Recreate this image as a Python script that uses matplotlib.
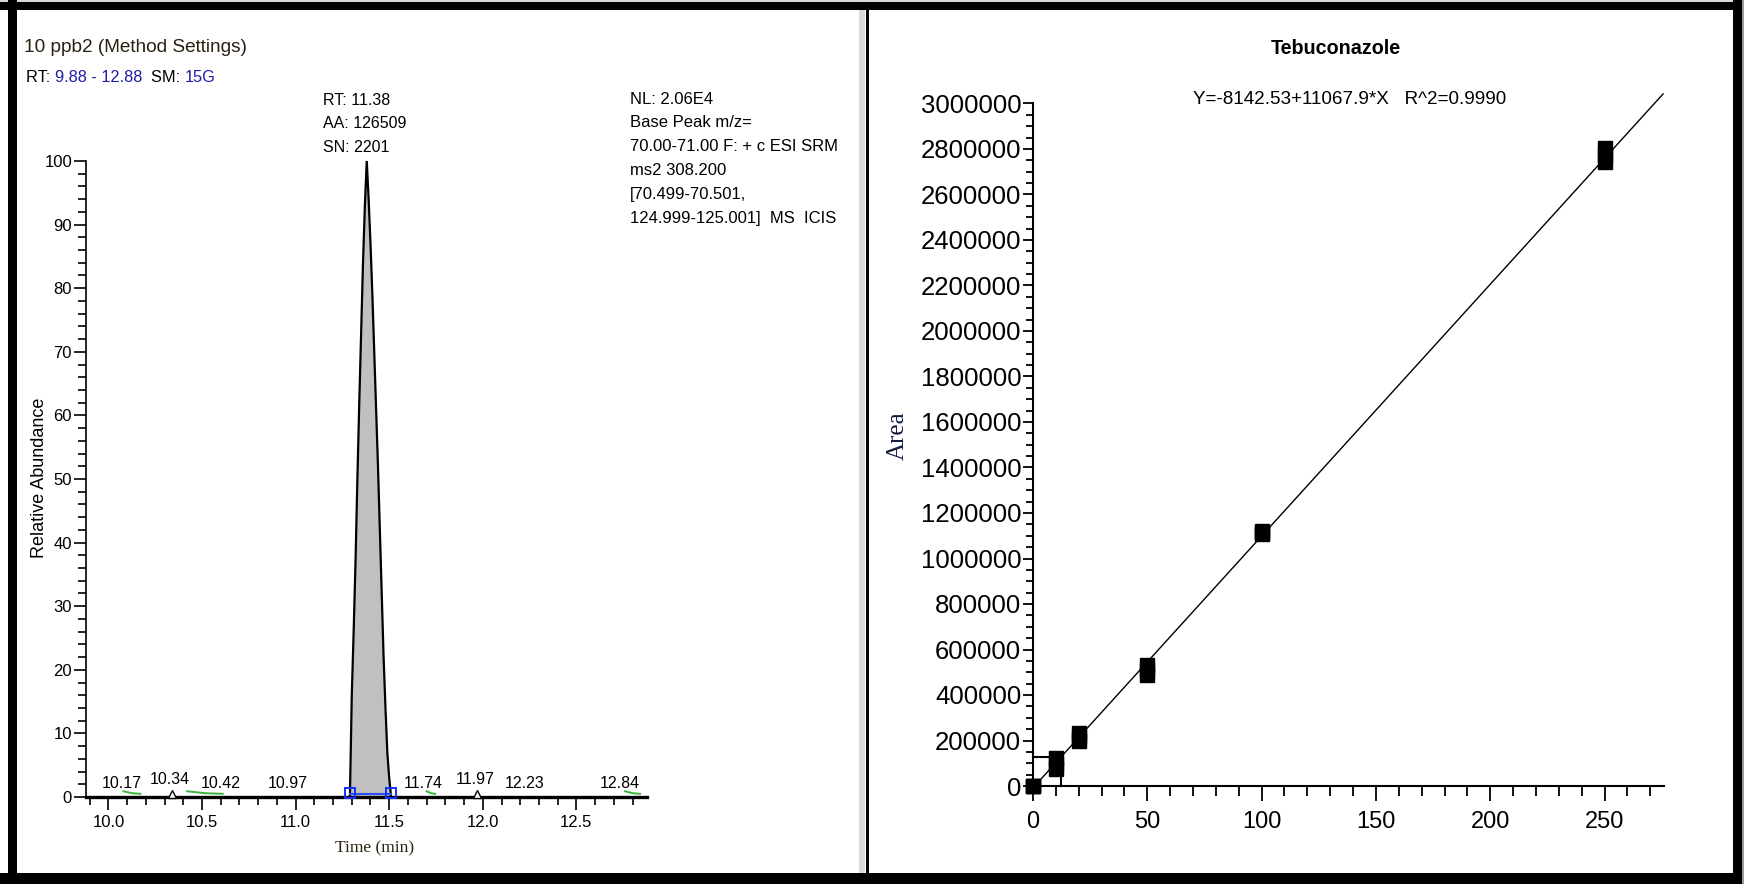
import matplotlib
matplotlib.use('Agg')
import matplotlib.pyplot as plt
from matplotlib.patches import Rectangle
from matplotlib.ticker import MultipleLocator, FuncFormatter

plt.rcParams['font.family'] = ['Liberation Sans', 'DejaVu Sans']

# ---------------- data ----------------
# chromatogram peak (time, relative abundance)
peak_time = [11.290, 11.295, 11.300, 11.31, 11.32, 11.33, 11.34, 11.35, 11.36, 11.37, 11.38,
             11.39, 11.40, 11.41, 11.42, 11.43, 11.44, 11.45, 11.46, 11.47, 11.48, 11.49, 11.50, 11.51]
peak_abund = [0, 8, 16, 26, 37, 50, 62, 73, 84, 93, 100,
              94, 87, 79, 70, 61, 52, 42, 32, 22, 14, 7, 3, 0]
peak_start = 11.29
peak_end = 11.51
# labelled minor peaks
minor_rt = [10.17, 10.34, 10.42, 10.97, 11.74, 11.97, 12.23, 12.84]
triangle_rt = [10.34, 11.97]
green_start = [10.08, 10.42, 11.70, 12.76]
green_end = [10.17, 10.61, 11.745, 12.84]
rt_range = (9.88, 12.88)
sample_area = 126509

# calibration data
conc_levels = [0, 10, 20, 50, 100, 250]
area_rep1 = [0, 76000, 199000, 487000, 1107000, 2743000]
area_rep2 = [500, 98000, 215000, 510000, 1113000, 2773000]
area_rep3 = [1000, 121000, 232000, 532000, 1119000, 2803000]
intercept = -8142.53
slope = 11067.9
r2 = 0.9990

# ---------------- layout helpers ----------------
W, H = 1744, 884
fig = plt.figure(figsize=(W / 100, H / 100), dpi=100)
fig.patch.set_facecolor('white')


def fx(x):
    return x / W


def fy(y):
    return 1 - y / H


def band(x0, y0, x1, y1, color):
    fig.add_artist(Rectangle((fx(x0), fy(y1)), (x1 - x0) / W, (y1 - y0) / H,
                             transform=fig.transFigure, color=color, lw=0, zorder=20))


BLUE = '#1e1ea6'
DARK = '#2a2010'

# ---------------- left panel : chromatogram ----------------
ax1 = fig.add_axes([fx(86), fy(797), (647.5 - 86) / W, (797 - 161) / H])
ax1.set_xlim(*rt_range)
ax1.set_ylim(0, 100)
for s in ('top', 'right'):
    ax1.spines[s].set_visible(False)
ax1.spines['left'].set_linewidth(1.2)
ax1.spines['bottom'].set_linewidth(2.4)
ax1.xaxis.set_major_locator(MultipleLocator(0.5))
ax1.xaxis.set_minor_locator(MultipleLocator(0.1))
ax1.yaxis.set_major_locator(MultipleLocator(10))
ax1.yaxis.set_minor_locator(MultipleLocator(2))
ax1.xaxis.set_major_formatter(FuncFormatter(lambda v, p: f'{v:.1f}'))
ax1.tick_params(axis='x', which='major', length=9, width=1.2, pad=4, labelsize=12)
ax1.tick_params(axis='x', which='minor', length=5.5, width=1.2)
ax1.tick_params(axis='y', which='major', length=8.5, width=1.2, pad=1.5, labelsize=12)
ax1.tick_params(axis='y', which='minor', length=5.5, width=1.2)

ax1.fill(peak_time, peak_abund, facecolor='#c0c0c0', edgecolor='black', lw=1.6,
         clip_on=False, zorder=3)
# baseline integration marks
ax1.plot([peak_start, peak_end], [0.5, 0.5], color='#2f4dff', lw=1.5, zorder=4, clip_on=False)
ax1.plot([peak_start, peak_end], [0.6, 0.6], ls='none', marker='s', ms=7, mfc='none',
         mec='#1030ff', mew=1.4, zorder=5, clip_on=False)
# green smoothed segments
for g0, g1 in zip(green_start, green_end):
    ax1.plot([g0, (g0 + g1) / 2, g1], [0.9, 0.6, 0.5], color='#3cb43c', lw=1.4, zorder=4,
             clip_on=False)
ax1.plot(triangle_rt, [0.5] * len(triangle_rt), ls='none', marker='^', ms=6, mfc='white',
         mec='black', mew=1.0, zorder=5, clip_on=False)
label_dx_px = [-19, -2, 34, -2, -11, -2, -1, -20]
label_dy_px = [14, 17, 14, 14, 14, 17, 14, 14]
for rt, dx, dy in zip(minor_rt, label_dx_px, label_dy_px):
    ax1.annotate(f'{rt:.2f}', xy=(rt, 0), xytext=(dx * 0.72, dy * 0.72),
                 textcoords='offset points', ha='center', va='center', fontsize=11.5,
                 annotation_clip=False)

fig.text(fx(375), fy(848.5), 'Time (min)', family=['Liberation Serif', 'DejaVu Serif'],
         fontsize=12.5, ha='center', va='center', color=DARK)
fig.text(fx(39), fy(478), 'Relative Abundance', rotation=90, fontsize=13,
         ha='center', va='center')

# header texts
fig.text(fx(24), fy(48), '10 ppb2 (Method Settings)', fontsize=13.7, ha='left', va='center',
         color=DARK)
parts = [('RT: ', 'black'), (f'{rt_range[0]:.2f} - {rt_range[1]:.2f}', BLUE),
         ('  SM: ', 'black'), ('15G', BLUE)]
prev = fig.text(fx(26), fy(84.5), parts[0][0], fontsize=11.8, ha='left', va='bottom',
                color=parts[0][1])
for s, c in parts[1:]:
    prev = ax1.annotate(s, xy=(1, 0), xycoords=prev, ha='left', va='bottom', fontsize=11.8,
                        color=c, annotation_clip=False)

peak_apex = peak_time[peak_abund.index(max(peak_abund))]
for i, line in enumerate([f'RT: {peak_apex:.2f}', f'AA: {sample_area}', 'SN: 2201']):
    fig.text(fx(323), fy(100.5 + 23.3 * i), line, fontsize=11.5, ha='left', va='center')
nl_lines = ['NL: 2.06E4', 'Base Peak m/z=', '70.00-71.00 F: + c ESI SRM', 'ms2 308.200',
            '[70.499-70.501,', '124.999-125.001]  MS  ICIS']
for i, line in enumerate(nl_lines):
    fig.text(fx(630), fy(99 + 23.8 * i), line, fontsize=12, ha='left', va='center')

# ---------------- right panel : calibration ----------------
ax2 = fig.add_axes([fx(1033), fy(786), (1664 - 1033) / W, (786 - 103.5) / H])
ax2.set_xlim(0, 276)
ax2.set_ylim(0, 3000000)
for s in ('top', 'right'):
    ax2.spines[s].set_visible(False)
for s in ('left', 'bottom'):
    ax2.spines[s].set_linewidth(1.5)
ax2.xaxis.set_major_locator(MultipleLocator(50))
ax2.xaxis.set_minor_locator(MultipleLocator(10))
ax2.yaxis.set_major_locator(MultipleLocator(200000))
ax2.yaxis.set_minor_locator(MultipleLocator(50000))
ax2.yaxis.set_major_formatter(FuncFormatter(lambda v, p: f'{int(round(v))}'))
ax2.tick_params(axis='x', which='major', length=10.5, width=1.3, pad=7.5, labelsize=17)
ax2.tick_params(axis='x', which='minor', length=7, width=1.3)
ax2.tick_params(axis='y', which='major', length=7.5, width=1.3, pad=1.0, labelsize=18.5)
ax2.tick_params(axis='y', which='minor', length=5, width=1.3)

x_line0 = -intercept / slope
x_line1 = 275.6
ax2.plot([x_line0, x_line1], [intercept + slope * x_line0, intercept + slope * x_line1],
         color='black', lw=1.0, clip_on=False, zorder=3)
for reps in (area_rep1, area_rep2, area_rep3):
    ax2.plot(conc_levels, reps, ls='none', marker='s', ms=9.5, color='black',
             clip_on=False, zorder=5)
x_sample = (sample_area - intercept) / slope
ax2.plot([0, x_sample, x_sample], [sample_area, sample_area, 0], color='black', lw=1.5,
         zorder=4, clip_on=False)

fig.text(fx(1336), fy(49), 'Tebuconazole', fontsize=14.2, fontweight='bold', ha='center',
         va='center')
fig.text(fx(1350), fy(100), f'Y={intercept:.2f}+{slope:.1f}*X   R^2={r2:.4f}', fontsize=13.6,
         ha='center', va='center')
fig.text(fx(898), fy(436), 'Area', rotation=90, family=['Liberation Serif', 'DejaVu Serif'],
         fontsize=18, ha='center', va='center', color='#141a40')

# ---------------- frame ----------------
band(0, 0, W, 2, '#d8d8d8')
band(0, 2, W, 10, 'black')
band(0, 873, W, H, 'black')
band(8, 0, 17, H, 'black')
band(1733, 0, 1742, H, 'black')
band(1742, 0, W, H, '#9a9a9a')
band(859, 10, 865, 873, '#d9d9d9')
band(866, 10, 869, 873, 'black')

fig.savefig('out.png', dpi=100)
